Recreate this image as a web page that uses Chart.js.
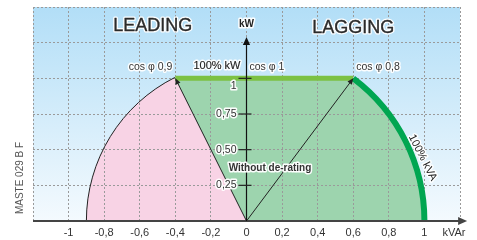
<!DOCTYPE html>
<html lang="en">
<head>
  <meta charset="UTF-8">
  <title>Capability diagram</title>
  <script src="https://cdn.jsdelivr.net/npm/chart.js"></script>
  <style>
    body { margin: 0; background: #fff; }
    #wrap { width: 477px; height: 240px; }
  </style>
</head>
<body>
  <div id="wrap"><canvas id="grafico" width="477" height="240"></canvas></div>

  <script>
    // axis ranges and ticks (kVAr horizontal, kW vertical)
    const xRange = [-1.2, 1.2];
    const yRange = [0, 1.5];
    const xTicks = [-1, -0.8, -0.6, -0.4, -0.2, 0, 0.2, 0.4, 0.6, 0.8, 1];
    const xTickLabels = ['-1', '-0,8', '-0,6', '-0,4', '-0,2', '0', '0,2', '0,4', '0,6', '0,8', '1'];
    const yTicks = [0.25, 0.5, 0.75, 1];
    const yTickLabels = ['0,25', '0,50', '0,75', '1'];
    const xAxisEnd = 1.24;
    const yAxisEnd = 1.29;

    // operating limits
    const leadPoint = { x: -0.4, y: 1 };   // cos φ 0,9
    const lagPoint = { x: 0.6, y: 1 };     // cos φ 0,8
    const kvaRadiusX = 1;                   // 100% kVA on kVAr axis
    const kvaRadiusY = 1.25;                // 100% kVA on kW axis
    const leadRadiusX = 0.9;
    const leadRadiusY = 1.125;

    const FONT = "'Liberation Sans', Arial, sans-serif";

    function P(chart, x, y) {
      return [chart.scales.x.getPixelForValue(x), chart.scales.y.getPixelForValue(y)];
    }

    function texto(ctx, t, x, y, font, cor, align, halo, peso) {
      ctx.save();
      ctx.font = font;
      ctx.textAlign = align || 'center';
      ctx.textBaseline = 'middle';
      ctx.lineJoin = 'round';
      if (halo !== false) {
        ctx.strokeStyle = 'rgba(255,255,255,0.95)';
        ctx.lineWidth = 3;
        ctx.strokeText(t, x, y);
      }
      ctx.fillStyle = cor;
      ctx.fillText(t, x, y);
      if (peso) {
        ctx.strokeStyle = cor;
        ctx.lineWidth = peso;
        ctx.strokeText(t, x, y);
      }
      ctx.restore();
    }

    function seta(ctx, x1, y1, x2, y2, tam, cor) {
      const a = Math.atan2(y2 - y1, x2 - x1);
      ctx.save();
      ctx.fillStyle = cor;
      ctx.beginPath();
      ctx.moveTo(x2, y2);
      ctx.lineTo(x2 - tam * Math.cos(a) + tam * 0.45 * Math.sin(a), y2 - tam * Math.sin(a) - tam * 0.45 * Math.cos(a));
      ctx.lineTo(x2 - tam * Math.cos(a) - tam * 0.45 * Math.sin(a), y2 - tam * Math.sin(a) + tam * 0.45 * Math.cos(a));
      ctx.closePath();
      ctx.fill();
      ctx.restore();
    }

    function elipses(chart) {
      const [cx, cy] = P(chart, 0, 0);
      const kva = {
        rx: chart.scales.x.getPixelForValue(kvaRadiusX) - cx,
        ry: cy - chart.scales.y.getPixelForValue(kvaRadiusY)
      };
      const lead = {
        rx: chart.scales.x.getPixelForValue(leadRadiusX) - cx,
        ry: cy - chart.scales.y.getPixelForValue(leadRadiusY)
      };
      const [lx, ly] = P(chart, lagPoint.x, lagPoint.y);
      kva.t = Math.atan2((ly - cy) / kva.ry, (lx - cx) / kva.rx);
      const [ex, ey] = P(chart, leadPoint.x, leadPoint.y);
      lead.t = Math.atan2((ey - cy) / lead.ry, (ex - cx) / lead.rx) + 2 * Math.PI;
      return { cx, cy, kva, lead };
    }

    const desenho = {
      id: 'desenho',
      beforeDraw(chart) {
        const { ctx, chartArea: a } = chart;
        ctx.save();
        const g = ctx.createLinearGradient(0, a.top, 0, a.bottom);
        g.addColorStop(0, '#b2def7');
        g.addColorStop(1, '#f4fafe');
        ctx.fillStyle = g;
        ctx.fillRect(a.left, a.top, a.right - a.left, a.bottom - a.top);

        const e = elipses(chart);
        const [ex, ey] = P(chart, leadPoint.x, leadPoint.y);
        const [lx, ly] = P(chart, lagPoint.x, lagPoint.y);

        // pink leading area
        ctx.fillStyle = '#f8d3e5';
        ctx.beginPath();
        ctx.moveTo(e.cx, e.cy);
        ctx.lineTo(e.cx - e.lead.rx, e.cy);
        ctx.ellipse(e.cx, e.cy, e.lead.rx, e.lead.ry, 0, Math.PI, e.lead.t, false);
        ctx.lineTo(ex, ey);
        ctx.closePath();
        ctx.fill();

        // green operating area
        ctx.fillStyle = '#9dd4ae';
        ctx.beginPath();
        ctx.moveTo(e.cx, e.cy);
        ctx.lineTo(ex, ey);
        ctx.lineTo(lx, ly);
        ctx.ellipse(e.cx, e.cy, e.kva.rx, e.kva.ry, 0, e.kva.t, 0, false);
        ctx.closePath();
        ctx.fill();
        ctx.restore();
      },
      afterDatasetsDraw(chart) {
        const { ctx, chartArea: a } = chart;
        const e = elipses(chart);
        ctx.save();
        // leading limit arc
        ctx.strokeStyle = '#222';
        ctx.lineWidth = 1;
        ctx.beginPath();
        ctx.ellipse(e.cx, e.cy, e.lead.rx, e.lead.ry, 0, Math.PI, e.lead.t, false);
        ctx.stroke();
        // 100% kVA arc
        ctx.strokeStyle = '#00a651';
        ctx.lineWidth = 6;
        ctx.beginPath();
        ctx.ellipse(e.cx, e.cy, e.kva.rx, e.kva.ry, 0, e.kva.t, 0, false);
        ctx.stroke();

        // axes
        const [x0, y0] = P(chart, 0, 0);
        const [xe] = P(chart, xAxisEnd, 0);
        const [, ye] = P(chart, 0, yAxisEnd);
        ctx.strokeStyle = '#444';
        ctx.lineWidth = 2;
        ctx.beginPath();
        ctx.moveTo(a.left, y0);
        ctx.lineTo(xe - 6, y0);
        ctx.stroke();
        seta(ctx, a.left, y0, xe, y0, 9, '#444');
        ctx.strokeStyle = '#111';
        ctx.lineWidth = 1.2;
        ctx.beginPath();
        ctx.moveTo(x0, y0);
        ctx.lineTo(x0, ye + 5);
        ctx.stroke();
        seta(ctx, x0, y0, x0, ye, 8, '#111');

        // diagonal arrow tips
        const [ex, ey] = P(chart, leadPoint.x, leadPoint.y);
        const [lx, ly] = P(chart, lagPoint.x, lagPoint.y);
        seta(ctx, x0, y0, ex, ey, 6, '#222');
        seta(ctx, x0, y0, lx, ly, 6, '#222');

        // y tick marks
        ctx.strokeStyle = '#222';
        ctx.lineWidth = 1.2;
        yTicks.forEach(v => {
          const [, yy] = P(chart, 0, v);
          ctx.beginPath();
          ctx.moveTo(x0 - 8, yy);
          ctx.lineTo(x0 + 5, yy);
          ctx.stroke();
        });
        ctx.restore();
      },
      afterDraw(chart) {
        const { ctx } = chart;
        const [x0, y0] = P(chart, 0, 0);
        const f11 = `11px ${FONT}`;

        xTicks.forEach((v, i) => {
          const [xx] = P(chart, v, 0);
          texto(ctx, xTickLabels[i], xx, y0 + 12, f11, '#333', 'center', false);
        });
        texto(ctx, 'kVAr', 454, y0 + 12, f11, '#333', 'center', false);

        yTicks.forEach((v, i) => {
          const [, yy] = P(chart, 0, v);
          texto(ctx, yTickLabels[i], x0 - 10, yy + (v === 1 ? 8 : 0), `10.5px ${FONT}`, '#333', 'right');
        });
        const [, ye] = P(chart, 0, yAxisEnd);
        texto(ctx, 'kW', x0, ye - 13, `bold 10px ${FONT}`, '#222', 'center');

        texto(ctx, 'LEADING', ...P(chart, -0.527, 1.367), `18px ${FONT}`, '#2b2b2b', 'center', true, 0.35);
        texto(ctx, 'LAGGING', ...P(chart, 0.6, 1.352), `18px ${FONT}`, '#2b2b2b', 'center', true, 0.35);

        const [ex, ey] = P(chart, leadPoint.x, leadPoint.y);
        const [lx, ly] = P(chart, lagPoint.x, lagPoint.y);
        const fc = `10.5px ${FONT}`;
        texto(ctx, 'cos φ 0,9', ex - 3, ey - 11, fc, '#333', 'right');
        texto(ctx, '100% kW', ...P(chart, -0.166, 1.085), `11px ${FONT}`, '#222', 'center', true, 0.15);
        texto(ctx, 'cos φ 1', x0 + 3, ey - 11, fc, '#333', 'left');
        texto(ctx, 'cos φ 0,8', lx + 3, ly - 11, fc, '#333', 'left');

        texto(ctx, 'Without de-rating', ...P(chart, 0.132, 0.373), `bold 10px ${FONT}`, '#333', 'center');

        ctx.save();
        ctx.translate(...P(chart, 0.99, 0.444));
        ctx.rotate(63 * Math.PI / 180);
        texto(ctx, '100% kVA', 0, 0, `11px ${FONT}`, '#222', 'center');
        ctx.restore();

        ctx.save();
        ctx.translate(20, 178);
        ctx.rotate(-Math.PI / 2);
        texto(ctx, 'MASTE 029 B F', 0, 0, `10px ${FONT}`, '#555', 'center', false);
        ctx.restore();
      }
    };

    new Chart(document.getElementById('grafico'), {
      type: 'scatter',
      data: {
        datasets: [
          {
            label: '100% kW',
            data: [leadPoint, lagPoint],
            showLine: true,
            borderColor: '#7cc143',
            borderWidth: 5,
            pointRadius: 0
          },
          {
            label: 'cos φ 0,9',
            data: [{ x: 0, y: 0 }, leadPoint],
            showLine: true,
            borderColor: '#222',
            borderWidth: 1,
            pointRadius: 0
          },
          {
            label: 'cos φ 0,8',
            data: [{ x: 0, y: 0 }, lagPoint],
            showLine: true,
            borderColor: '#222',
            borderWidth: 1,
            pointRadius: 0
          }
        ]
      },
      options: {
        responsive: false,
        animation: false,
        layout: { padding: { left: 33, right: 17, top: 7, bottom: 19 } },
        plugins: { legend: { display: false }, tooltip: { enabled: false } },
        scales: {
          x: {
            type: 'linear',
            min: xRange[0],
            max: xRange[1],
            ticks: { display: false, stepSize: 0.2 },
            grid: { color: '#9a9a9a', lineWidth: 1, drawTicks: false },
            border: { display: false, dash: [2, 2] }
          },
          y: {
            type: 'linear',
            min: yRange[0],
            max: yRange[1],
            ticks: { display: false, stepSize: 0.25 },
            grid: { color: '#9a9a9a', lineWidth: 1, drawTicks: false },
            border: { display: false, dash: [2, 2] }
          }
        }
      },
      plugins: [desenho]
    });
  </script>
</body>
</html>
